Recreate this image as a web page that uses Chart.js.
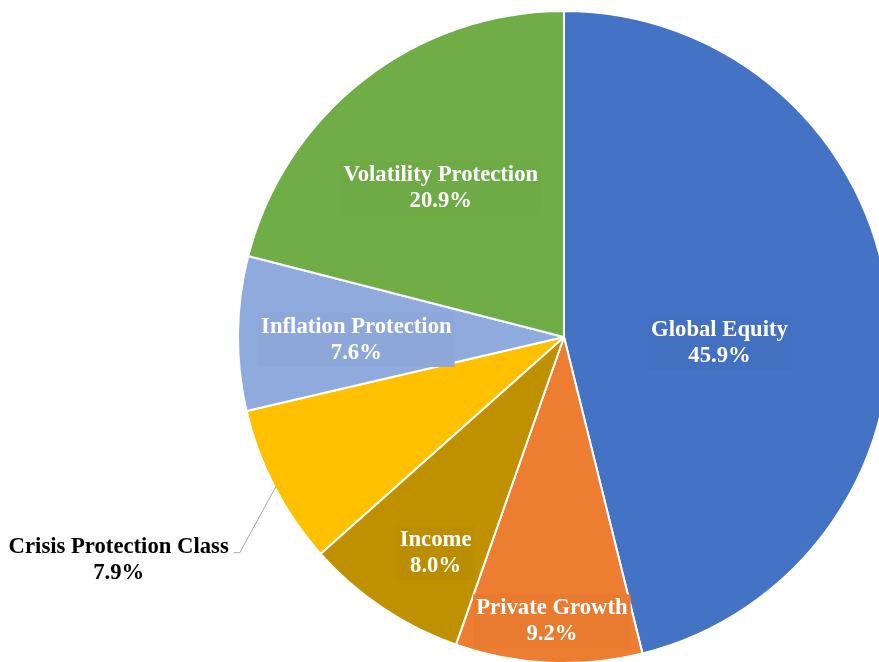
<!DOCTYPE html>
<html>
<head>
<meta charset="utf-8">
<script src="https://cdn.jsdelivr.net/npm/chart.js@4.4.1/dist/chart.umd.min.js"></script>
<style>
  html, body { margin: 0; padding: 0; background: #fff; overflow: hidden; }
  #wrap { width: 1128px; height: 680px; position: absolute; left: 0; top: -10px; }
</style>
</head>
<body>
<div id="wrap"><canvas id="pie" width="1128" height="680"></canvas></div>
<script>
/* ── data ── */
const categories = ['Global Equity', 'Private Growth', 'Income', 'Crisis Protection Class', 'Inflation Protection', 'Volatility Protection'];
const shares = [45.9, 9.2, 8.0, 7.9, 7.6, 20.9];
const sliceColors = ['#4472C4', '#ED7D31', '#BF9000', '#FFC000', '#8FAADC', '#70AD47'];

/* label anchors, as fractions of the radius from the pie centre */
const labelAnchors = [[0.477, 0.018], [-0.037, 0.872], [-0.394, 0.662], [-1.366, 0.683], [-0.637, 0.009], [-0.378, -0.457]];
const labelInside = [true, true, true, false, true, true];

function shade(hex, f) {
  const n = parseInt(hex.slice(1), 16);
  const r = Math.round(((n >> 16) & 255) * f), g = Math.round(((n >> 8) & 255) * f), b = Math.round((n & 255) * f);
  return `rgb(${r},${g},${b})`;
}

const pieLabels = {
  id: 'pieLabels',
  afterDatasetsDraw(chart) {
    const ctx = chart.ctx;
    const arcs = chart.getDatasetMeta(0).data;
    ctx.save();
    ctx.font = "bold 22.7px 'Liberation Serif', 'Times New Roman', serif";
    ctx.textAlign = 'center';
    ctx.textBaseline = 'middle';
    arcs.forEach((arc, i) => {
      const R = arc.outerRadius;
      const cx = arc.x + labelAnchors[i][0] * R;
      const cy = arc.y + labelAnchors[i][1] * R;
      const lines = [categories[i], shares[i].toFixed(1) + '%'];
      const w = Math.max(...lines.map(t => ctx.measureText(t).width));
      const lh = 26;
      if (labelInside[i]) {
        ctx.fillStyle = shade(sliceColors[i], 0.98);
        ctx.fillRect(cx - w / 2 - 3, cy - lh - 1, w + 6, lh * 2 + 2);
        ctx.fillStyle = '#fff';
      } else {
        // leader line from the slice edge to the label
        const ang = (arc.startAngle + arc.endAngle) / 2;
        const ex = arc.x + Math.cos(ang) * R * 0.995;
        const ey = arc.y + Math.sin(ang) * R * 0.995;
        const tx = cx + w / 2 + 5;
        const ty = cy - lh / 2 + 6;
        ctx.strokeStyle = '#a6a6a6';
        ctx.lineWidth = 1;
        ctx.beginPath();
        ctx.moveTo(ex, ey);
        ctx.lineTo(tx + 6, ty);
        ctx.lineTo(tx, ty);
        ctx.stroke();
        ctx.fillStyle = '#000';
      }
      ctx.fillText(lines[0], cx, cy - lh / 2);
      ctx.fillText(lines[1], cx, cy + lh / 2);
    });
    ctx.restore();
  }
};

new Chart(document.getElementById('pie'), {
  type: 'pie',
  data: {
    labels: categories,
    datasets: [{
      data: shares,
      backgroundColor: sliceColors,
      borderColor: '#ffffff',
      borderWidth: 2,
      hoverOffset: 0
    }]
  },
  options: {
    responsive: false,
    animation: false,
    layout: { padding: { top: 20, bottom: 6, left: 0, right: 0 } },
    plugins: {
      legend: { display: false },
      tooltip: { enabled: false }
    }
  },
  plugins: [pieLabels]
});
</script>
</body>
</html>
